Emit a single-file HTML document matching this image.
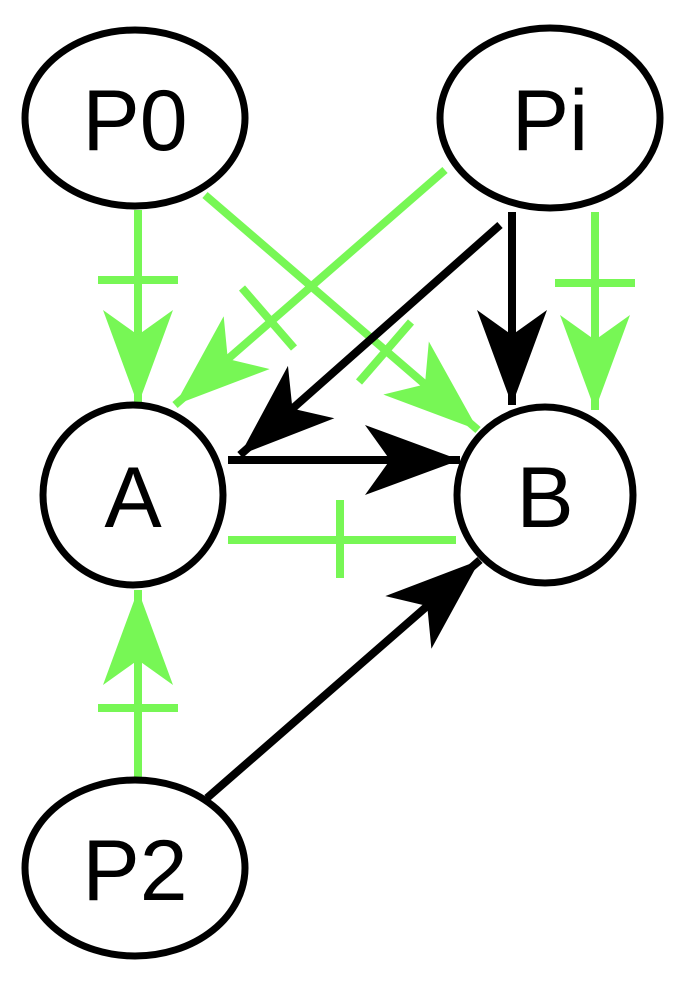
<!DOCTYPE html>
<html><head><meta charset="utf-8"><style>html,body{margin:0;padding:0;background:#fff}svg{display:block}</style></head><body>
<svg width="685" height="988" viewBox="0 0 685 988" xmlns="http://www.w3.org/2000/svg">
<defs>
<marker id="ab" markerUnits="userSpaceOnUse" markerWidth="100" markerHeight="70" refX="95" refY="35" orient="auto" viewBox="0 0 100 70">
<path d="M95,35 L0,0 L25,35 L0,70 Z" fill="#000"/></marker>
<marker id="ag" markerUnits="userSpaceOnUse" markerWidth="100" markerHeight="70" refX="95" refY="35" orient="auto" viewBox="0 0 100 70">
<path d="M95,35 L0,0 L25,35 L0,70 Z" fill="#77f755"/></marker>
</defs>
<g fill="none">
<g stroke="#77f755" stroke-width="8">
<line x1="138" y1="210" x2="138" y2="405" marker-end="url(#ag)"/>
<line x1="98" y1="280" x2="178" y2="280"/>
<line x1="205" y1="195" x2="478" y2="430" marker-end="url(#ag)"/>
<line x1="359" y1="382" x2="411" y2="322"/>
<line x1="445" y1="170" x2="175" y2="405" marker-end="url(#ag)"/>
<line x1="242" y1="288" x2="294" y2="348"/>
<line x1="595" y1="212" x2="595" y2="410" marker-end="url(#ag)"/>
<line x1="555" y1="283" x2="635" y2="283"/>
<line x1="228" y1="540" x2="456" y2="540"/>
<line x1="340" y1="500" x2="340" y2="578"/>
<line x1="138" y1="780" x2="138" y2="590" marker-end="url(#ag)"/>
<line x1="98" y1="708" x2="178" y2="708"/>
</g>
<g stroke="#000" stroke-width="8">
<line x1="500" y1="225" x2="240" y2="455" marker-end="url(#ab)"/>
<line x1="512" y1="212" x2="512" y2="405" marker-end="url(#ab)"/>
<line x1="228" y1="460" x2="460" y2="460" marker-end="url(#ab)"/>
<line x1="207" y1="798" x2="480" y2="560" marker-end="url(#ab)"/>
</g>
<g stroke="#000" stroke-width="7" fill="#fff">
<ellipse cx="135" cy="118" rx="110" ry="88"/>
<ellipse cx="550" cy="118" rx="110" ry="90"/>
<circle cx="133" cy="495" r="90"/>
<circle cx="545" cy="495" r="88"/>
<ellipse cx="135" cy="868" rx="110" ry="88"/>
</g>
</g>
<g font-family="Liberation Sans, sans-serif" font-size="86" text-anchor="middle" fill="#000">
<text x="135" y="150">P0</text>
<text x="550" y="150">Pi</text>
<text x="133" y="527">A</text>
<text x="545" y="527">B</text>
<text x="135" y="900">P2</text>
</g>
</svg>
</body></html>
